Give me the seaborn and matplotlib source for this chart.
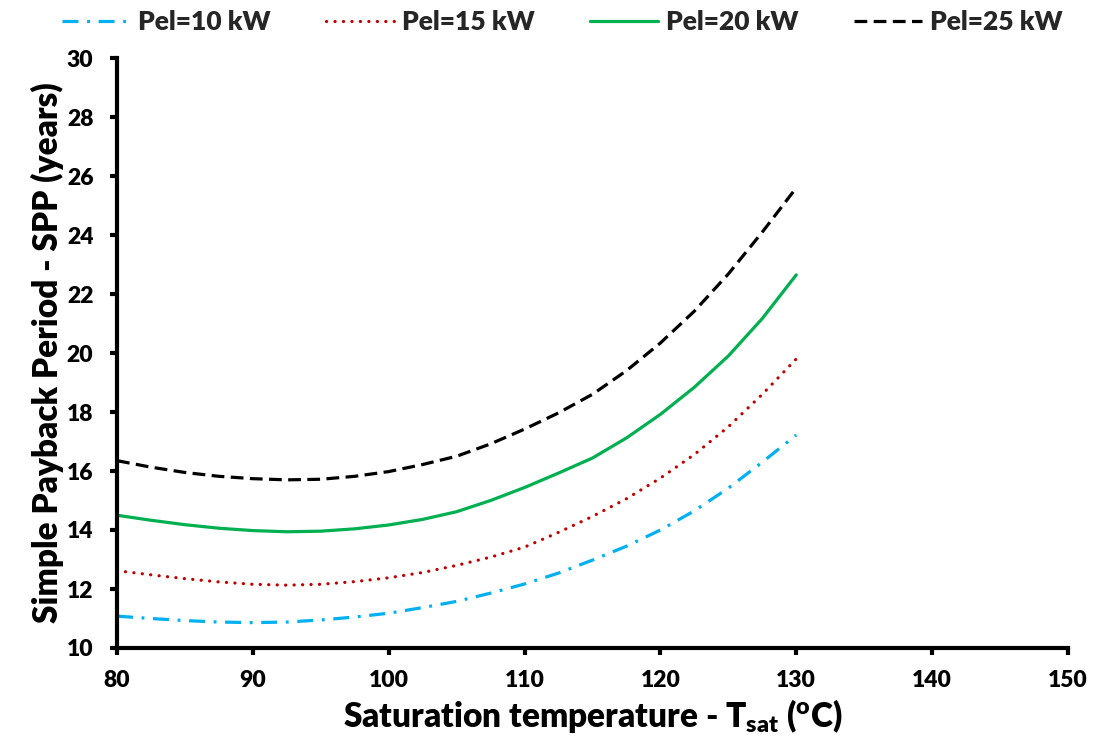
import numpy as np
import pandas as pd
import matplotlib
matplotlib.use("Agg")
import matplotlib.pyplot as plt
import seaborn as sns

# ---- data ----
t_sat = [80, 82.5, 85, 87.5, 90, 92.5, 95, 97.5, 100, 102.5, 105,
         107.5, 110, 112.5, 115, 117.5, 120, 122.5, 125, 127.5, 130]
spp_10 = [11.08, 11.0, 10.93, 10.88, 10.86, 10.88, 10.95, 11.05, 11.18, 11.37, 11.58,
          11.86, 12.17, 12.54, 12.98, 13.45, 14.0, 14.65, 15.42, 16.3, 17.22]
spp_15 = [12.62, 12.48, 12.35, 12.24, 12.16, 12.13, 12.16, 12.25, 12.38, 12.56, 12.8,
          13.08, 13.42, 13.92, 14.46, 15.06, 15.76, 16.56, 17.5, 18.6, 19.8]
spp_20 = [14.5, 14.33, 14.18, 14.06, 13.98, 13.94, 13.96, 14.04, 14.17, 14.36, 14.62,
          15.0, 15.44, 15.93, 16.44, 17.12, 17.92, 18.84, 19.9, 21.17, 22.65]
spp_25 = [16.35, 16.13, 15.95, 15.82, 15.74, 15.7, 15.72, 15.82, 15.98, 16.22, 16.5,
          16.92, 17.42, 17.97, 18.6, 19.4, 20.34, 21.42, 22.68, 24.1, 25.6]
labels = ["Pel=10 kW", "Pel=15 kW", "Pel=20 kW", "Pel=25 kW"]
x_ticks = [80, 90, 100, 110, 120, 130, 140, 150]
y_ticks = [10, 12, 14, 16, 18, 20, 22, 24, 26, 28, 30]

sns.set_theme(style="white")
FONT = "Lato"
W = "heavy"
plt.rcParams["font.family"] = [FONT, "DejaVu Sans"]
plt.rcParams["font.weight"] = W
plt.rcParams["mathtext.fontset"] = "custom"
plt.rcParams["mathtext.rm"] = f"{FONT}:{W}"
plt.rcParams["mathtext.it"] = f"{FONT}:{W}"
plt.rcParams["mathtext.bf"] = f"{FONT}:{W}"
plt.rcParams["mathtext.default"] = "rm"

fig = plt.figure(figsize=(10.95, 7.40), dpi=100)
ax = fig.add_axes([117/1095, 1-648/740, (1068-117)/1095, (648-58)/740])

series = [spp_10, spp_15, spp_20, spp_25]
colors = ["#00B0F0", "#C00000", "#00B050", "#000000"]
styles = [(0, (5, 2.7, 0.9, 2.7)), (0, (0.05, 2.6)), "-", (0, (4, 2))]
caps = ["butt", "round", "butt", "butt"]

for ys, lab, c, ls, cap in zip(series, labels, colors, styles, caps):
    df = pd.DataFrame({"T": t_sat, "SPP": ys})
    sns.lineplot(data=df, x="T", y="SPP", ax=ax, color=c, linestyle=ls,
                 linewidth=2.3, label=lab, dash_capstyle=cap)

ax.set_xlim(80, 150)
ax.set_ylim(10, 30)
ax.set_xticks(x_ticks)
ax.set_yticks(y_ticks)
for s in ["top", "right"]:
    ax.spines[s].set_visible(False)
for s in ["left", "bottom"]:
    ax.spines[s].set_linewidth(3)
    ax.spines[s].set_color("black")
ax.tick_params(axis="both", direction="out", length=5, width=3, color="black",
               labelsize=16.5, labelcolor="black", left=True, bottom=True)
ax.tick_params(axis="y", pad=12)
ax.tick_params(axis="x", pad=11)
for lbl in ax.get_xticklabels() + ax.get_yticklabels():
    lbl.set_fontweight(W)

ax.set_xlabel(r"Saturation temperature - T$_{sat}$ ($^{o}$C)", fontsize=24,
              fontweight=W, color="black", labelpad=4)
ax.set_ylabel("Simple Payback Period - SPP (years)", fontsize=24,
              fontweight=W, color="black", labelpad=2)

ax.get_legend().remove()
h, l = ax.get_legend_handles_labels()
fig.legend(h, l, loc="center", bbox_to_anchor=(562/1095, 1-22/740), ncol=4,
           frameon=False, prop={"family": FONT, "weight": W, "size": 19},
           handlelength=2.6, handletextpad=0.28, columnspacing=2.1)

fig.savefig("out.png", dpi=100)
